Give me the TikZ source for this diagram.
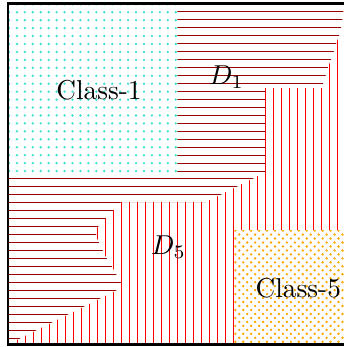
\documentclass[tikz,border=0pt]{standalone}
\definecolor{clsone}{RGB}{64,224,208}
\definecolor{clsfive}{RGB}{255,165,0}
\definecolor{hlcol}{RGB}{150,0,0}
\definecolor{vlcol}{RGB}{255,0,0}
\tikzset{
  hline/.style={color=hlcol, line width=0.5pt},
  vline/.style={color=vlcol, line width=0.5pt},
  axisline/.style={draw=black, line width=0.8pt},
  lbl/.style={inner sep=0pt, anchor=base, scale=1.03}
}
\begin{document}
\begin{tikzpicture}[x=0.3769pt, y=-0.3769pt]
\useasboundingbox (0,0) rectangle (344,347);
% frame corners
\coordinate (tl) at (7.7,3.5);
\coordinate (tr) at (344,3.5);
\coordinate (bl) at (7.7,344.5);
\coordinate (br) at (344,344.5);
% D1 region (horizontal lines), excluding Class-1
\begin{scope}
  \clip (177.5,3.5) -- (344,3.5) -- (344,5) -- (343.3,11.7) -- (342.3,19.7) -- (341,27.6) -- (339,35.6) -- (336.3,43.5) -- (333.7,51.5) -- (331,59.4) -- (328,67.4) -- (325.7,75.4) -- (323,83.4) -- (322,88) -- (265,88) -- (265,172.5) -- (206,202) -- (121,202) -- (97,228) -- (96,236) -- (100,245) -- (106.5,258) -- (112,266.5) -- (121,283) -- (119.2,289) -- (7.7,344.5) -- (7.7,177) -- (177.5,177) -- cycle;
  \foreach \k in {0,...,43} {
    \pgfmathsetmacro\yy{floor(3.73+7.966*\k)+0.5}
    \draw[hline] (7,\yy) -- (345,\yy);
  }
\end{scope}
% D5 region (vertical lines), excluding Class-5
\begin{scope}
  \clip (344,5) -- (343.3,11.7) -- (342.3,19.7) -- (341,27.6) -- (339,35.6) -- (336.3,43.5) -- (333.7,51.5) -- (331,59.4) -- (328,67.4) -- (325.7,75.4) -- (323,83.4) -- (322,88) -- (265,88) -- (265,172.5) -- (206,202) -- (121,202) -- (97,228) -- (96,236) -- (100,245) -- (106.5,258) -- (112,266.5) -- (121,283) -- (119.2,289) -- (7.7,344.5) -- (234.3,344.5) -- (234.3,230) -- (344,230) -- cycle;
  \foreach \k in {1,...,42} {
    \draw[vline] ({1.5+8*\k},0) -- ({1.5+8*\k},346);
  }
\end{scope}
% Class-1 region
\begin{scope}
  \clip (tl) rectangle (177.5,177);
  \foreach \i in {0,...,21} {
    \foreach \j in {0,...,21} {
      \fill[clsone] ({9+7.94*\i},{4.3+7.94*\j}) circle[radius=0.5pt];
    }
  }
\end{scope}
% Class-5 region
\begin{scope}
  \clip (234.3,230) rectangle (br);
  \foreach \i in {28,...,43} {
    \foreach \j in {28,...,43} {
      \fill[clsfive] ({9+7.94*\i},{4.3+7.94*\j}) circle[radius=0.5pt];
      \fill[clsfive] ({12.97+7.94*\i},{8.27+7.94*\j}) circle[radius=0.5pt];
    }
  }
\end{scope}
% axes
\draw[axisline] (tr) -- (tl) -- (bl) -- (br);
% labels
\node[lbl] (c1) at (99,99) {Class-1};
\node[lbl, anchor=base west] (d1) at (208.5,84) {$D_1$};
\node[lbl, anchor=base west] (d5) at (150.5,254) {$D_5$};
\node[lbl] (c5) at (298.3,297.3) {Class-5};
\end{tikzpicture}
\end{document}
